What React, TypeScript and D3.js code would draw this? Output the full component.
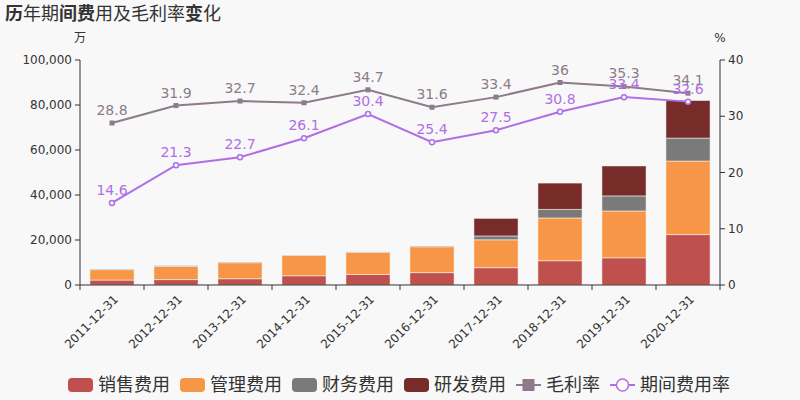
import React from 'react';
import * as d3 from 'd3';

const years = ['2011-12-31', '2012-12-31', '2013-12-31', '2014-12-31', '2015-12-31', '2016-12-31', '2017-12-31', '2018-12-31', '2019-12-31', '2020-12-31'];
const sales = [2200, 2400, 2800, 4100, 4700, 5500, 7700, 10800, 12100, 22400];
const admin = [4600, 5900, 7100, 9100, 9800, 11500, 12400, 19000, 20800, 32700];
const finance = [300, 300, 300, 100, 200, 300, 1700, 3800, 6700, 10200];
const rnd = [0, 0, 0, 0, 0, 0, 7800, 11700, 13300, 16700];
const grossMargin = [28.8, 31.9, 32.7, 32.4, 34.7, 31.6, 33.4, 36, 35.3, 34.1];
const expenseRate = [14.6, 21.3, 22.7, 26.1, 30.4, 25.4, 27.5, 30.8, 33.4, 32.6];
const leftTicks = [0, 20000, 40000, 60000, 80000, 100000];
const rightTicks = [0, 10, 20, 30, 40];

const barSeries = [
  { name: '销售费用', values: sales, color: '#c0504d' },
  { name: '管理费用', values: admin, color: '#f79646' },
  { name: '财务费用', values: finance, color: '#7a7a7a' },
  { name: '研发费用', values: rnd, color: '#772c2a' },
];
const gmColor = '#8c7b8c';
const erColor = '#b06ee6';
const textColor = '#333';
const font = '"DejaVu Sans", "Noto Sans CJK SC", sans-serif';

const App: React.FC = () => {
  const width = 800;
  const height = 400;
  const margin = { top: 60, right: 80, bottom: 115, left: 80 };
  const innerW = width - margin.left - margin.right;
  const innerH = height - margin.top - margin.bottom;

  const x = d3.scaleBand().domain(years).range([0, innerW]).paddingInner(0.31).paddingOuter(0.155);
  const band = innerW / years.length;
  const yL = d3.scaleLinear().domain([0, 100000]).range([innerH, 0]);
  const yR = d3.scaleLinear().domain([0, 40]).range([innerH, 0]);
  const cx = (d: string) => (x(d) as number) + x.bandwidth() / 2;

  const line = d3.line<number>().x((_, i) => cx(years[i])).y(v => yR(v));

  const stacks = years.map((_, i) => {
    let acc = 0;
    return barSeries.map(s => {
      const y0 = acc;
      acc += s.values[i];
      return { y0, y1: acc, color: s.color };
    });
  });

  const fmt = d3.format(',');

  // legend layout
  const legendItems = [
    ...barSeries.map(s => ({ name: s.name, color: s.color, kind: 'bar' })),
    { name: '毛利率', color: gmColor, kind: 'gm' },
    { name: '期间费用率', color: erColor, kind: 'er' },
  ];
  const legendFont = 18;
  let lx = 68;
  const legendPos = legendItems.map(it => {
    const pos = lx;
    lx += 25 + 5 + it.name.length * legendFont + 10;
    return pos;
  });

  return (
    <svg width={width} height={height} style={{ position: 'absolute', left: 0, top: 0, background: '#f8f8f8', fontFamily: font }}>
      <rect width={width} height={height} fill="#f8f8f8" />
      <text x={5} y={20} fontSize={18} fill={textColor} fontFamily='"Noto Sans CJK SC", sans-serif'>
        <tspan fontWeight="bold">历</tspan>
        <tspan>年期</tspan>
        <tspan fontWeight="bold">间费</tspan>
        <tspan>用及毛利率</tspan>
        <tspan fontWeight="bold">变</tspan>
        <tspan>化</tspan>
      </text>
      <text x={80} y={42} fontSize={12} fill={textColor} textAnchor="middle">万</text>
      <text x={720} y={42} fontSize={12} fill={textColor} textAnchor="middle">%</text>
      <g transform={`translate(${margin.left},${margin.top})`}>
        {stacks.map((st, i) => (
          <g key={years[i]}>
            {st.filter(s => s.y1 > s.y0).map((s, j) => (
              <rect key={j} x={x(years[i])} width={x.bandwidth()} y={yL(s.y1)} height={yL(s.y0) - yL(s.y1)}
                fill={s.color} stroke="#fff" strokeOpacity={0.5} strokeWidth={1} />
            ))}
          </g>
        ))}
        {/* left axis */}
        <line x1={0} x2={0} y1={0} y2={innerH} stroke={textColor} />
        {leftTicks.map(t => (
          <g key={t} transform={`translate(0,${yL(t)})`}>
            <line x1={-5} x2={0} stroke={textColor} />
            <text x={-8} dy="0.35em" fontSize={12} textAnchor="end" fill={textColor}>{fmt(t)}</text>
          </g>
        ))}
        {/* right axis */}
        <line x1={innerW} x2={innerW} y1={0} y2={innerH} stroke={textColor} />
        {rightTicks.map(t => (
          <g key={t} transform={`translate(${innerW},${yR(t)})`}>
            <line x1={0} x2={5} stroke={textColor} />
            <text x={8} dy="0.35em" fontSize={12} textAnchor="start" fill={textColor}>{t}</text>
          </g>
        ))}
        {/* bottom axis */}
        <line x1={0} x2={innerW} y1={innerH} y2={innerH} stroke={textColor} />
        {d3.range(years.length + 1).map(i => (
          <line key={i} x1={i * band} x2={i * band} y1={innerH} y2={innerH + 5} stroke={textColor} />
        ))}
        {years.map(y => (
          <text key={y} transform={`translate(${cx(y) + 4},${innerH + 12}) rotate(-45)`} fontSize={12}
            textAnchor="end" dy="0.35em" fill={textColor}>{y}</text>
        ))}
        {/* lines */}
        <path d={line(grossMargin) as string} fill="none" stroke={gmColor} strokeWidth={2} />
        {grossMargin.map((v, i) => (
          <rect key={i} x={cx(years[i]) - 2.5} y={yR(v) - 2.5} width={5} height={5} fill={gmColor} />
        ))}
        <path d={line(expenseRate) as string} fill="none" stroke={erColor} strokeWidth={2} />
        {expenseRate.map((v, i) => (
          <circle key={i} cx={cx(years[i])} cy={yR(v)} r={2.5} fill="#fff" stroke={erColor} strokeWidth={1.5} />
        ))}
        {grossMargin.map((v, i) => (
          <text key={i} x={cx(years[i])} y={yR(v) - 8} fontSize={14} textAnchor="middle" fill={gmColor}>{v}</text>
        ))}
        {expenseRate.map((v, i) => (
          <text key={i} x={cx(years[i])} y={yR(v) - 8} fontSize={14} textAnchor="middle" fill={erColor}>{v}</text>
        ))}
      </g>
      {/* legend */}
      {legendItems.map((it, i) => (
        <g key={it.name} transform={`translate(${legendPos[i]},385)`}>
          {it.kind === 'bar' && <rect x={0} y={-7} width={25} height={14} rx={4} fill={it.color} />}
          {it.kind === 'gm' && (
            <g>
              <line x1={0} x2={25} y1={0} y2={0} stroke={it.color} strokeWidth={2} />
              <rect x={6.5} y={-6} width={12} height={12} fill={it.color} />
            </g>
          )}
          {it.kind === 'er' && (
            <g>
              <line x1={0} x2={25} y1={0} y2={0} stroke={it.color} strokeWidth={2} />
              <circle cx={12.5} cy={0} r={6} fill="#fff" stroke={it.color} strokeWidth={1.5} />
            </g>
          )}
          <text x={30} dy="0.35em" fontSize={legendFont} fill={textColor} fontFamily='"Noto Sans CJK SC", sans-serif'>{it.name}</text>
        </g>
      ))}
    </svg>
  );
};

export default App;
